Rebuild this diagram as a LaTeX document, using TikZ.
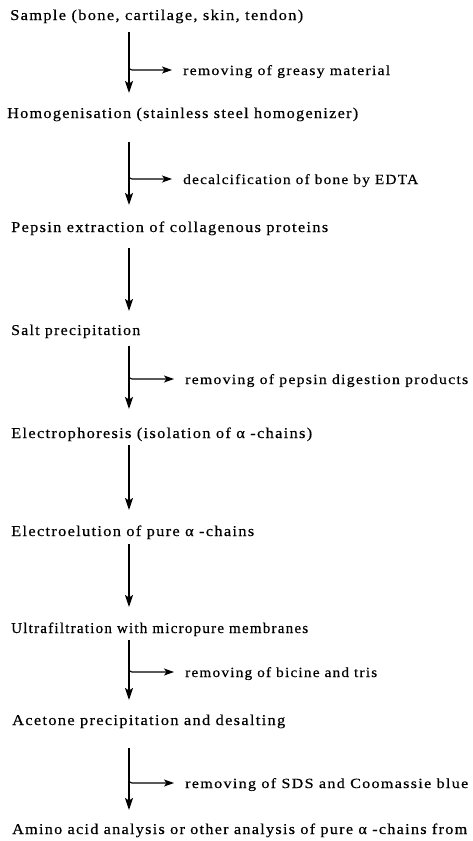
\documentclass[tikz,border=0pt]{standalone}
\usepackage{fontspec}
\setmainfont{Liberation Serif}[LetterSpace=8,FakeBold=0.4]
\usetikzlibrary{arrows.meta}
\newcommand{\fitw}[2]{\resizebox{#1}{\height}{#2}}
\begin{document}
\begin{tikzpicture}[x=1pt,y=-1pt,
  stepnode/.style={anchor=base west,inner sep=0pt,font=\fontsize{15}{18}\selectfont},
  notenode/.style={anchor=base west,inner sep=0pt,font=\fontsize{14}{17}\selectfont},
  flow/.style={line width=1.6pt,-{Stealth[length=12pt,width=8pt,inset=2.5pt]}},
  side/.style={line width=1.1pt,rounded corners=3pt,-{Stealth[length=10pt,width=7pt,inset=2.5pt]}}]
\useasboundingbox (0,0) rectangle (472,841);
\coordinate (ax) at (129,0);
% steps
\node[stepnode] (s1) at (10,20) {\fitw{293pt}{Sample (bone, cartilage, skin, tendon)}};
\node[stepnode] (s2) at (7,118) {\fitw{351pt}{Homogenisation (stainless steel homogenizer)}};
\node[stepnode] (s3) at (11,232) {\fitw{317pt}{Pepsin extraction of collagenous proteins}};
\node[stepnode] (s4) at (11,335) {\fitw{129pt}{Salt precipitation}};
\node[stepnode] (s5) at (11,438) {\fitw{301pt}{Electrophoresis (isolation of α -chains)}};
\node[stepnode] (s6) at (11,536) {\fitw{243pt}{Electroelution of pure α -chains}};
\node[stepnode] (s7) at (11,633) {\fitw{297pt}{Ultrafiltration with micropure membranes}};
\node[stepnode] (s8) at (12,725) {\fitw{273pt}{Acetone precipitation and desalting}};
\node[stepnode] (s9) at (12,834) {\fitw{455pt}{Amino acid analysis or other analysis of pure α -chains from}};
% side notes
\node[notenode] (r1) at (183,75) {\fitw{207pt}{removing of greasy material}};
\node[notenode] (r2) at (183,184) {\fitw{235pt}{decalcification of bone by EDTA}};
\node[notenode] (r3) at (185,384) {\fitw{283pt}{removing of pepsin digestion products}};
\node[notenode] (r4) at (185,677) {\fitw{192pt}{removing of bicine and tris}};
\node[notenode] (r5) at (185,788) {\fitw{283pt}{removing of SDS and Coomassie blue}};
% main flow
\draw[flow,shorten <=12pt,shorten >=25pt] (s1.base -| ax) -- (s2.base -| ax);
\draw[flow,shorten <=24pt,shorten >=27pt] (s2.base -| ax) -- (s3.base -| ax);
\draw[flow,shorten <=16pt,shorten >=24pt] (s3.base -| ax) -- (s4.base -| ax);
\draw[flow,shorten <=11pt,shorten >=29pt] (s4.base -| ax) -- (s5.base -| ax);
\draw[flow,shorten <=7pt,shorten >=26pt] (s5.base -| ax) -- (s6.base -| ax);
\draw[flow,shorten <=8pt,shorten >=26pt] (s6.base -| ax) -- (s7.base -| ax);
\draw[flow,shorten <=7pt,shorten >=25pt] (s7.base -| ax) -- (s8.base -| ax);
\draw[flow,shorten <=23pt,shorten >=24pt] (s8.base -| ax) -- (s9.base -| ax);
% side branches
\foreach \r in {r1,r2,r3,r4,r5}
  \draw[side,shorten >=11pt] ([yshift=9pt]\r.base -| ax) |- ([yshift=5pt]\r.base west);
\end{tikzpicture}
\end{document}
